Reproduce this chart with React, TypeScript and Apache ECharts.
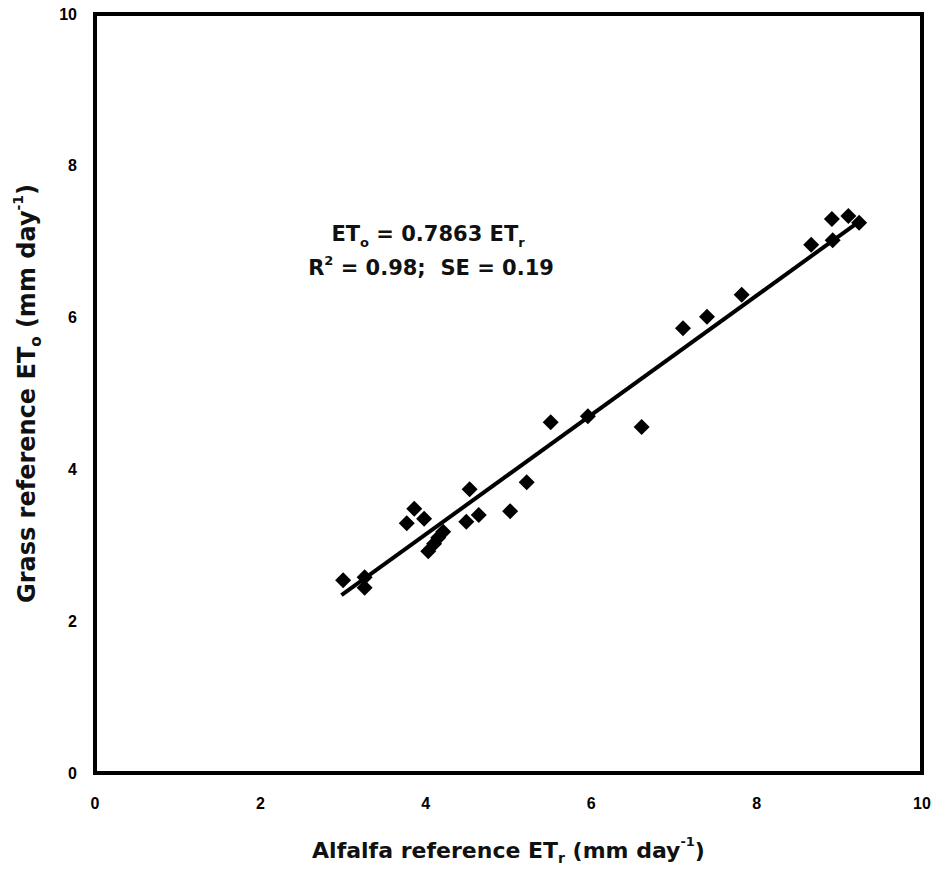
import React, { useEffect, useRef } from "react";
import * as echarts from "echarts";

const alfalfaX = [3.0, 3.26, 3.26, 3.77, 3.86, 3.98, 4.03, 4.1, 4.15, 4.21, 4.49, 4.53, 4.64, 5.02, 5.22, 5.51, 5.96, 6.61, 7.11, 7.4, 7.82, 8.66, 8.92, 8.91, 9.11, 9.24];
const grassY = [2.54, 2.58, 2.44, 3.29, 3.48, 3.35, 2.92, 3.02, 3.1, 3.18, 3.31, 3.74, 3.4, 3.45, 3.83, 4.62, 4.7, 4.56, 5.86, 6.01, 6.3, 6.96, 7.02, 7.3, 7.34, 7.25];
const slope = 0.7863;
const fitRangeX = [2.98, 9.24];
const axisTicks = [0, 2, 4, 6, 8, 10];

export default function App() {
  const ref = useRef<HTMLDivElement>(null);
  useEffect(() => {
    if (!ref.current) return;
    const chart = echarts.init(ref.current, null, { renderer: "svg" });
    const font = "'Liberation Sans', Arial, sans-serif";
    const wide = "'DejaVu Sans', sans-serif";
    const mkRich = (size: number, color: string, key: "color" | "fill") => ({
      n: { fontSize: size, fontFamily: wide, fontWeight: "bold", [key]: color, lineHeight: size + 8, verticalAlign: "middle" },
      sub: { fontSize: Math.round(size * 0.62), fontFamily: wide, fontWeight: "bold", [key]: color, lineHeight: Math.round(size * 0.62), verticalAlign: "bottom" },
      sup: { fontSize: Math.round(size * 0.6), fontFamily: wide, fontWeight: "bold", [key]: color, lineHeight: Math.round(size * 0.6), verticalAlign: "top" },
    });
    const pts = alfalfaX.map((x, i) => [x, grassY[i]]);
    const fit = fitRangeX.map((x) => [x, slope * x]);
    const labelStyle = {
      fontFamily: font,
      fontWeight: "bold" as const,
      fontSize: 16,
      color: "#000",
    };
    chart.setOption({
      animation: false,
      backgroundColor: "#fff",
      grid: {
        left: 95,
        right: 13,
        top: 14,
        bottom: 99,
        show: true,
        borderColor: "#000",
        borderWidth: 4,
        backgroundColor: "transparent",
      },
      xAxis: {
        type: "value",
        min: 0,
        max: 10,
        interval: 2,
        splitLine: { show: false },
        axisTick: { show: false },
        axisLine: { show: true, lineStyle: { color: "#000", width: 4 } },
        axisLabel: { ...labelStyle, margin: 22, formatter: (v: number) => (axisTicks.includes(v) ? String(v) : "") },
        name: "{n|Alfalfa reference ET}{sub|r}{n| (mm day}{sup|-1}{n|)}",
        nameLocation: "middle",
        nameGap: 62,
        nameTextStyle: { rich: mkRich(22, "#111", "color") },
      },
      yAxis: {
        type: "value",
        min: 0,
        max: 10,
        interval: 2,
        splitLine: { show: false },
        axisTick: { show: false },
        axisLine: { show: true, lineStyle: { color: "#000", width: 4 } },
        axisLabel: { ...labelStyle, margin: 18 },
        name: "{n|Grass reference ET}{sub|o}{n| (mm day}{sup|-1}{n|)}",
        nameLocation: "middle",
        nameGap: 52,
        nameRotate: 90,
        nameTextStyle: { rich: mkRich(24, "#111", "color") },
      },
      series: [
        {
          type: "line",
          data: fit,
          showSymbol: false,
          symbol: "none",
          lineStyle: { color: "#000", width: 4 },
          z: 2,
        },
        {
          type: "scatter",
          data: pts,
          symbol: "diamond",
          symbolSize: [16, 16],
          itemStyle: { color: "#000", opacity: 1 },
          z: 3,
        },
      ],
      graphic: [
        {
          type: "text",
          x: 428,
          y: 234,
          style: {
            text: "{n|ET}{sub|o}{n| = 0.7863 ET}{sub|r}",
            align: "center",
            verticalAlign: "middle",
            rich: mkRich(21, "#111", "fill"),
          },
        },
        {
          type: "text",
          x: 431,
          y: 268,
          style: {
            text: "{n|R}{sup|2}{n| = 0.98;  SE = 0.19}",
            align: "center",
            verticalAlign: "middle",
            rich: mkRich(21, "#111", "fill"),
          },
        },
      ],
    });
    return () => chart.dispose();
  }, []);
  return <div ref={ref} style={{ width: 935, height: 872, position: "absolute", left: 0, top: 0 }} />;
}
